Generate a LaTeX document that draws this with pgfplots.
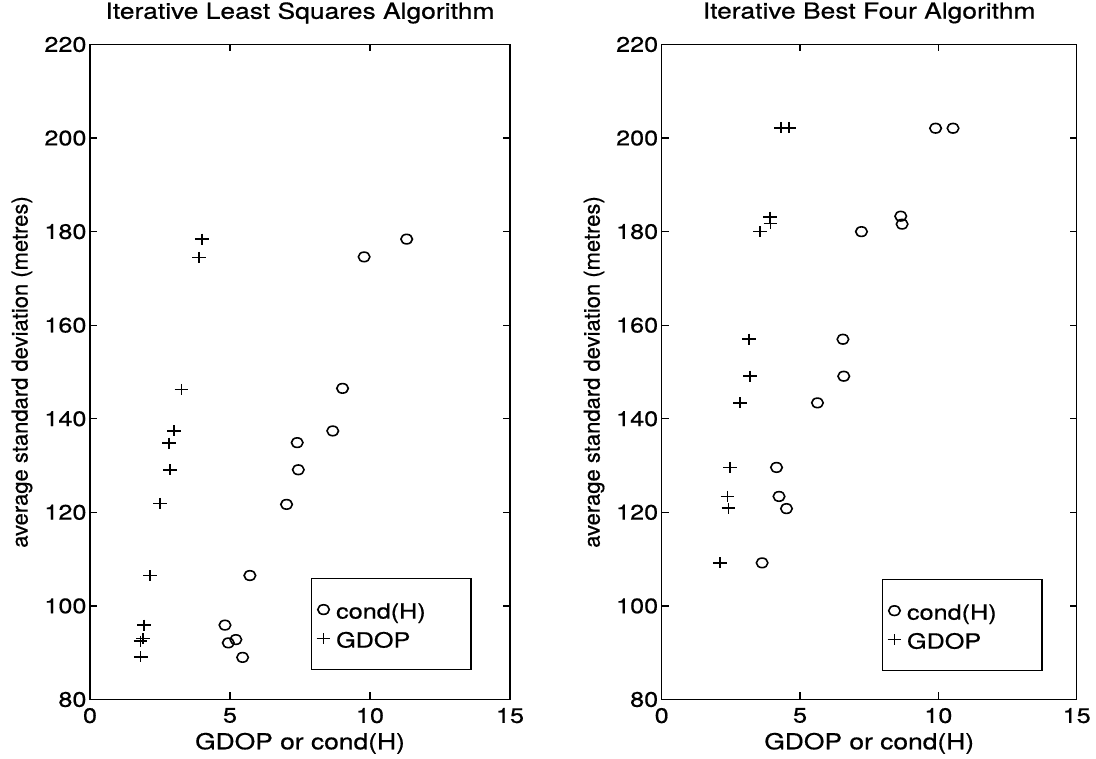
\documentclass[border=0pt]{standalone}
\usepackage{fontspec}
\setmainfont{TeX Gyre Heros}[FakeStretch=1.2, FakeBold=0.6]
\newfontfamily\ylfont{TeX Gyre Heros}[FakeBold=0.6]
\usepackage{pgfplots}
\pgfplotsset{compat=1.18}
\newcommand{\bigf}{\fontsize{21}{25}\selectfont}
\newcommand{\labf}{\fontsize{22}{26}\selectfont}
\newcommand{\ylf}{\ylfont\fontsize{22}{26}\selectfont}
\pgfplotsset{
  matfig/.style={
    scale only axis,
    xmin=0, xmax=15, ymin=80, ymax=220,
    xtick={0,5,10,15}, ytick={80,100,120,140,160,180,200,220},
    minor tick num=0,
    xtick pos=both, ytick pos=both,
    tick align=inside,
    major tick length=7pt,
    tick style={black, line width=1.2pt},
    axis line style={black, line width=1.5pt},
    /pgf/number format/assume math mode=true,
    tick label style={font=\bigf},
    xticklabel style={yshift=-5pt},
    title style={font=\labf, anchor=center, at={(axis description cs:0.5,1.039)}},
    xlabel style={font=\labf, anchor=center, at={(axis description cs:0.5,-0.067)}},
    ylabel style={font=\ylf, anchor=center, rotate=0},
    legend cell align=left,
    legend image code/.code={\draw[#1] plot coordinates {(6pt,0pt)};},
    legend style={draw=black, line width=1.3pt, font=\bigf, fill=white,
      inner xsep=5pt, inner ysep=21pt, row sep=9pt, column sep=5.7pt,
      nodes={inner xsep=0pt, inner ysep=0pt, text width=130pt, align=left, text height=19pt, text depth=1pt}},
  },
  condstyle/.style={only marks, mark=o, mark size=4.8pt, black, line width=1.6pt, mark options={xscale=1.2, line width=1.6pt}},
  gdopstyle/.style={only marks, mark=+, mark size=5.5pt, black, line width=1.6pt, mark options={xscale=1.25, line width=1.6pt}},
}
\begin{document}
\begin{tikzpicture}
\useasboundingbox (0,0) rectangle (1096pt,759pt);
\begin{axis}[matfig, at={(90pt,59.5pt)}, anchor=south west,
  width=420pt, height=655pt,
  title={Iterative Least Squares Algorithm},
  xlabel={GDOP or cond(H)},
  ylabel={average standard deviation (metres)},
  ylabel style={at={(axis description cs:-0.162,0.5)}},
  legend style={at={(axis description cs:0.909,0.0447)}, anchor=south east}]
\addplot[condstyle] coordinates {
(11.31,178.4) (9.79,174.6) (9.02,146.5) (8.67,137.4) (7.40,134.9) (7.44,129.1)
(7.02,121.7) (5.71,106.5) (4.82,95.9) (5.21,92.8) (4.94,92.1) (5.45,89.0)};
\addlegendentry{cond(H)}
\addplot[gdopstyle] coordinates {
(3.99,178.4) (3.90,174.5) (3.27,146.3) (3.01,137.4) (2.83,134.8) (2.86,129.1)
(2.50,121.9) (2.14,106.5) (1.93,95.9) (1.90,93.0) (1.80,92.5) (1.81,89.1)};
\addlegendentry{GDOP}
\end{axis}
\begin{axis}[matfig, at={(661.7pt,59.5pt)}, anchor=south west,
  width=415pt, height=655pt,
  title={Iterative Best Four Algorithm},
  xlabel={GDOP or cond(H)},
  ylabel={average standard deviation (metres)},
  ylabel style={at={(axis description cs:-0.163,0.5)}},
  legend style={at={(axis description cs:0.918,0.043)}, anchor=south east}]
\addplot[condstyle] coordinates {
(9.90,202.1) (10.53,202.1) (8.64,183.3) (8.69,181.6) (7.22,180.0) (6.55,157.0)
(6.58,149.1) (5.63,143.4) (4.15,129.6) (4.24,123.4) (4.51,120.8) (3.63,109.2)};
\addlegendentry{cond(H)}
\addplot[gdopstyle] coordinates {
(4.32,202.2) (4.61,202.2) (3.91,183.1) (3.93,181.7) (3.56,180.0) (3.16,157.0)
(3.19,149.1) (2.83,143.4) (2.47,129.6) (2.38,123.4) (2.41,120.9) (2.10,109.2)};
\addlegendentry{GDOP}
\end{axis}
\end{tikzpicture}
\end{document}
